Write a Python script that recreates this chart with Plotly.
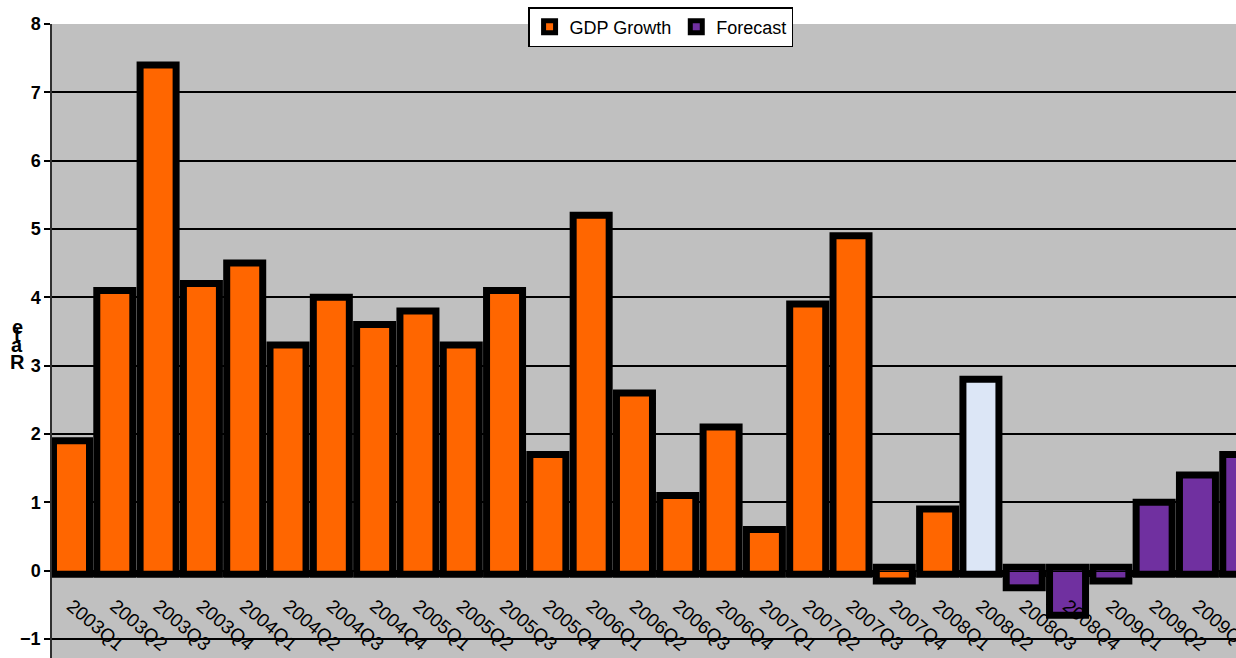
import plotly.graph_objects as go

quarters = ["2003Q1","2003Q2","2003Q3","2003Q4","2004Q1","2004Q2","2004Q3","2004Q4",
            "2005Q1","2005Q2","2005Q3","2005Q4","2006Q1","2006Q2","2006Q3","2006Q4",
            "2007Q1","2007Q2","2007Q3","2007Q4","2008Q1","2008Q2","2008Q3","2008Q4",
            "2009Q1","2009Q2","2009Q3","2009Q4"]
gdp_growth = [1.85, 4.05, 7.35, 4.15, 4.45, 3.25, 3.95, 3.55, 3.75, 3.25, 4.05, 1.65, 5.15, 2.55, 1.05, 2.05,
              0.55, 3.85, 4.85, -0.1, 0.85, 2.75, None, None, None, None, None, None]
forecast = [None]*22 + [-0.2, -0.6, -0.1, 0.95, 1.35, 1.65]
y_ticks = [-1, 0, 1, 2, 3, 4, 5, 6, 7, 8]

ORANGE = "#FF6600"
PURPLE = "#7030A0"
gdp_colors = [ORANGE]*21 + ["#DCE6F6"] + [ORANGE]*6

FONT = "Liberation Sans, Arial, sans-serif"
BAR_W = 0.67

fig = go.Figure()
# black outlines drawn outside the fill (thick line underneath)
for vals in (gdp_growth, forecast):
    fig.add_trace(go.Bar(x=quarters, y=vals, width=BAR_W, showlegend=False, hoverinfo="skip",
                         marker=dict(color="black", line=dict(color="black", width=14))))
fig.add_trace(go.Bar(x=quarters, y=gdp_growth, width=BAR_W, showlegend=False, name="GDP Growth",
                     marker=dict(color=gdp_colors, line=dict(width=0))))
fig.add_trace(go.Bar(x=quarters, y=forecast, width=BAR_W, showlegend=False, name="Forecast",
                     marker=dict(color=PURPLE, line=dict(width=0))))
# legend entries
fig.add_trace(go.Bar(x=[quarters[0]], y=[None], name="GDP Growth",
                     marker=dict(color=ORANGE, line=dict(color="black", width=7))))
fig.add_trace(go.Bar(x=[quarters[0]], y=[None], name="Forecast",
                     marker=dict(color=PURPLE, line=dict(color="black", width=7))))

y_lo, y_hi = -1.278, 8
zero_pos = (0 - y_lo) / (y_hi - y_lo)

fig.update_layout(
    width=1236, height=658,
    margin=dict(l=52, r=0, t=24, b=0),
    paper_bgcolor="white", plot_bgcolor="#C0C0C0",
    barmode="overlay",
    font=dict(family=FONT, color="black"),
    legend=dict(orientation="h", x=0.514, xanchor="center", y=1.0268, yanchor="top",
                bgcolor="white", bordercolor="black", borderwidth=1.5,
                font=dict(size=18, family=FONT), itemwidth=30),
    xaxis=dict(type="category", range=[-0.45, 26.89], anchor="free", position=zero_pos,
               tickangle=40, tickfont=dict(size=19, family=FONT),
               ticks="outside", ticklen=5, tickcolor="black", tickson="boundaries",
               showline=True, linecolor="black", linewidth=1, showgrid=False,
               automargin=False, ticklabelstandoff=16),
    yaxis=dict(range=[y_lo, y_hi], tickvals=y_ticks,
               tickfont=dict(size=18, family=FONT, weight="bold"),
               ticks="outside", ticklen=6, tickcolor="black", tickwidth=1.5,
               showline=True, linecolor="#303030", linewidth=1.5,
               showgrid=True, gridcolor="black", gridwidth=1.5,
               zeroline=False, automargin=False),
)

letters = [("R", 3.06), ("a", 3.3), ("t", 3.45), ("e", 3.56)]
for ch, yv in letters:
    fig.add_annotation(text=ch, x=(17 - 52) / 1184, xref="paper", y=yv, yref="y",
                       showarrow=False, xanchor="center", yanchor="middle",
                       font=dict(size=20, family=FONT, weight="bold", color="black"))

fig.write_html("out.html")
